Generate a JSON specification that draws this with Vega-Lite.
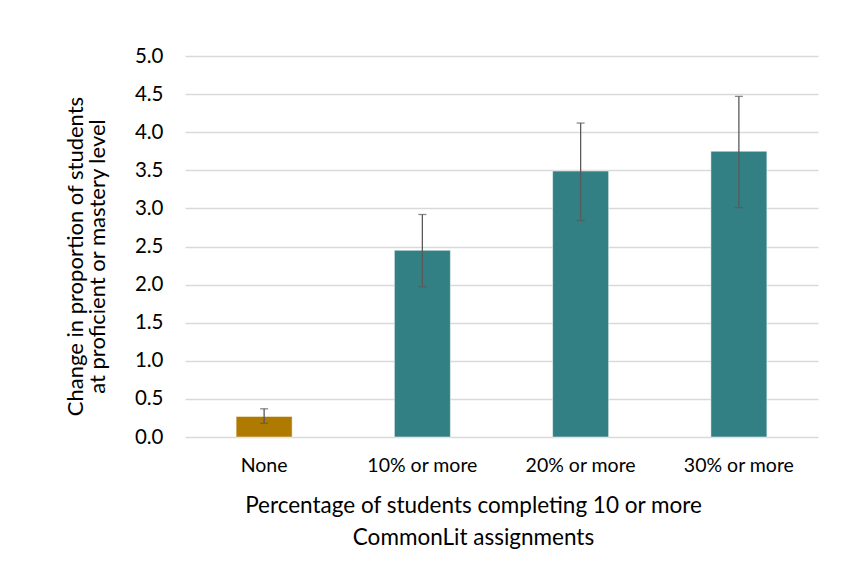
{
  "$schema": "https://vega.github.io/schema/vega-lite/v6.json",
  "width": 633,
  "height": 381,
  "autosize": "none",
  "padding": {"left": 185, "top": 56, "right": 26, "bottom": 151},
  "background": "white",
  "data": {
    "values": [
      {"group": "None", "value": 0.27, "low": 0.18, "high": 0.37, "kind": "none"},
      {"group": "10% or more", "value": 2.45, "low": 1.97, "high": 2.92, "kind": "some"},
      {"group": "20% or more", "value": 3.49, "low": 2.84, "high": 4.12, "kind": "some"},
      {"group": "30% or more", "value": 3.75, "low": 3.01, "high": 4.47, "kind": "some"}
    ]
  },
  "encoding": {
    "x": {
      "field": "group",
      "type": "nominal",
      "sort": null,
      "scale": {"paddingInner": 0.646, "paddingOuter": 0.323},
      "axis": {
        "title": ["Percentage of students completing 10 or more", "CommonLit assignments"],
        "titleFont": "Lato",
        "titleFontSize": 22.5,
        "titleFontWeight": "normal",
        "titleColor": "#000000",
        "titleX": 288,
        "titlePadding": 20,
        "titleLineHeight": 32,
        "labelFont": "Lato",
        "labelFontSize": 19.5,
        "labelColor": "#000000",
        "labelAngle": 0,
        "labelPadding": 19,
        "domain": false,
        "ticks": false,
        "grid": false
      }
    }
  },
  "layer": [
    {
      "mark": {"type": "bar", "stroke": "#ffffff", "strokeWidth": 0.5},
      "encoding": {
        "y": {
          "field": "value",
          "type": "quantitative",
          "scale": {"domain": [0, 5]},
          "axis": {
            "title": ["Change in proportion of students", "at proficient or mastery level"],
            "titleFont": "Lato",
            "titleFontSize": 22,
            "titleFontWeight": "normal",
            "titleColor": "#000000",
            "titleLineHeight": 22,
            "titlePadding": 25,
            "titleY": 200,
            "values": [0, 0.5, 1, 1.5, 2, 2.5, 3, 3.5, 4, 4.5, 5],
            "format": ".1f",
            "labelFont": "Lato",
            "labelFontSize": 20.5,
            "labelColor": "#000000",
            "labelPadding": 22,
            "labelOverlap": false,
            "domain": false,
            "ticks": false,
            "grid": true,
            "gridColor": "#d9d9d9",
            "gridWidth": 1.5
          }
        },
        "color": {
          "field": "kind",
          "type": "nominal",
          "scale": {"domain": ["none", "some"], "range": ["#ae7b00", "#327f84"]},
          "legend": null
        }
      }
    },
    {
      "mark": {"type": "rule", "color": "#595959", "strokeWidth": 1.3},
      "encoding": {
        "y": {
          "field": "low",
          "type": "quantitative",
          "axis": {
            "title": ["Change in proportion of students", "at proficient or mastery level"],
            "titleFont": "Lato",
            "titleFontSize": 22,
            "titleFontWeight": "normal",
            "titleColor": "#000000",
            "titleLineHeight": 22,
            "titlePadding": 25,
            "titleY": 200,
            "values": [0, 0.5, 1, 1.5, 2, 2.5, 3, 3.5, 4, 4.5, 5],
            "format": ".1f",
            "labelFont": "Lato",
            "labelFontSize": 20.5,
            "labelColor": "#000000",
            "labelPadding": 22,
            "labelOverlap": false,
            "domain": false,
            "ticks": false,
            "grid": true,
            "gridColor": "#d9d9d9",
            "gridWidth": 1.5
          }
        },
        "y2": {"field": "high"}
      }
    },
    {
      "mark": {"type": "tick", "color": "#595959", "size": 8, "thickness": 1.3, "orient": "horizontal"},
      "encoding": {
        "y": {
          "field": "low",
          "type": "quantitative",
          "axis": {
            "title": ["Change in proportion of students", "at proficient or mastery level"],
            "titleFont": "Lato",
            "titleFontSize": 22,
            "titleFontWeight": "normal",
            "titleColor": "#000000",
            "titleLineHeight": 22,
            "titlePadding": 25,
            "titleY": 200,
            "values": [0, 0.5, 1, 1.5, 2, 2.5, 3, 3.5, 4, 4.5, 5],
            "format": ".1f",
            "labelFont": "Lato",
            "labelFontSize": 20.5,
            "labelColor": "#000000",
            "labelPadding": 22,
            "labelOverlap": false,
            "domain": false,
            "ticks": false,
            "grid": true,
            "gridColor": "#d9d9d9",
            "gridWidth": 1.5
          }
        }
      }
    },
    {
      "mark": {"type": "tick", "color": "#595959", "size": 8, "thickness": 1.3, "orient": "horizontal"},
      "encoding": {
        "y": {
          "field": "high",
          "type": "quantitative",
          "axis": {
            "title": ["Change in proportion of students", "at proficient or mastery level"],
            "titleFont": "Lato",
            "titleFontSize": 22,
            "titleFontWeight": "normal",
            "titleColor": "#000000",
            "titleLineHeight": 22,
            "titlePadding": 25,
            "titleY": 200,
            "values": [0, 0.5, 1, 1.5, 2, 2.5, 3, 3.5, 4, 4.5, 5],
            "format": ".1f",
            "labelFont": "Lato",
            "labelFontSize": 20.5,
            "labelColor": "#000000",
            "labelPadding": 22,
            "labelOverlap": false,
            "domain": false,
            "ticks": false,
            "grid": true,
            "gridColor": "#d9d9d9",
            "gridWidth": 1.5
          }
        }
      }
    }
  ],
  "config": {
    "view": {"stroke": null}
  }
}
